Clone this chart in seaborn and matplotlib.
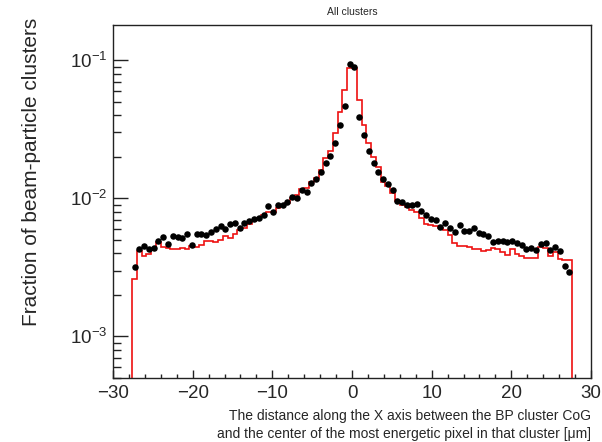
import numpy as np
import pandas as pd
import matplotlib
matplotlib.use("Agg")
import matplotlib.pyplot as plt
import seaborn as sns
from matplotlib.ticker import LogLocator, MultipleLocator, NullFormatter

# ---- data ----
bin_edges = np.linspace(-27.6, 27.6, 93)   # 92 bins, 0.6 um wide
bin_centers = 0.5 * (bin_edges[:-1] + bin_edges[1:])

data_fraction = [
    3.16e-3, 4.30e-3, 4.55e-3, 4.31e-3, 4.36e-3, 4.87e-3, 5.24e-3, 4.66e-3, 5.35e-3, 5.24e-3,
    5.20e-3, 5.51e-3, 4.60e-3, 5.51e-3, 5.54e-3, 5.44e-3, 5.69e-3, 5.98e-3, 6.32e-3, 6.01e-3,
    6.53e-3, 6.68e-3, 6.14e-3, 6.61e-3, 6.84e-3, 7.06e-3, 7.26e-3, 7.55e-3, 8.83e-3, 7.94e-3,
    9.02e-3, 8.97e-3, 9.33e-3, 1.03e-2, 1.01e-2, 1.15e-2, 1.11e-2, 1.29e-2, 1.39e-2, 1.54e-2,
    1.80e-2, 2.03e-2, 2.52e-2, 3.41e-2, 4.70e-2, 9.44e-2, 8.93e-2, 3.90e-2, 2.87e-2, 2.21e-2,
    1.79e-2, 1.56e-2, 1.38e-2, 1.27e-2, 1.15e-2, 9.64e-3, 9.38e-3, 8.93e-3, 8.95e-3, 9.17e-3,
    8.11e-3, 7.59e-3, 7.03e-3, 6.95e-3, 6.18e-3, 6.68e-3, 6.11e-3, 5.74e-3, 6.42e-3, 5.81e-3,
    5.81e-3, 6.14e-3, 5.60e-3, 5.50e-3, 5.35e-3, 4.79e-3, 4.92e-3, 4.87e-3, 4.79e-3, 4.87e-3,
    4.73e-3, 4.60e-3, 4.31e-3, 4.40e-3, 4.26e-3, 4.68e-3, 4.76e-3, 4.24e-3, 4.43e-3, 4.19e-3,
    3.24e-3, 2.92e-3,
]

sim_fraction = [
    2.62e-3, 4.15e-3, 3.85e-3, 3.95e-3, 4.20e-3, 4.86e-3, 4.42e-3, 4.40e-3, 4.33e-3, 4.33e-3,
    4.40e-3, 4.30e-3, 4.55e-3, 4.45e-3, 4.60e-3, 4.90e-3, 4.90e-3, 4.80e-3, 5.00e-3, 5.35e-3,
    5.20e-3, 5.50e-3, 5.85e-3, 6.10e-3, 6.50e-3, 6.90e-3, 7.20e-3, 7.55e-3, 8.00e-3, 7.90e-3,
    8.50e-3, 8.75e-3, 9.25e-3, 1.00e-2, 1.05e-2, 1.17e-2, 1.19e-2, 1.32e-2, 1.40e-2, 1.61e-2,
    1.95e-2, 2.22e-2, 2.96e-2, 4.19e-2, 6.10e-2, 8.80e-2, 8.80e-2, 5.12e-2, 3.41e-2, 2.51e-2,
    1.99e-2, 1.68e-2, 1.32e-2, 1.22e-2, 1.09e-2, 9.50e-3, 8.97e-3, 8.60e-3, 8.20e-3, 8.00e-3,
    7.20e-3, 6.55e-3, 6.40e-3, 6.30e-3, 6.10e-3, 5.90e-3, 5.44e-3, 4.73e-3, 4.50e-3, 4.53e-3,
    4.43e-3, 4.28e-3, 4.30e-3, 4.17e-3, 4.22e-3, 4.36e-3, 4.33e-3, 4.07e-3, 3.88e-3, 4.28e-3,
    3.95e-3, 3.83e-3, 3.68e-3, 3.68e-3, 3.68e-3, 4.43e-3, 4.36e-3, 3.83e-3, 4.12e-3, 3.62e-3,
    3.55e-3, 3.55e-3,
]

title_text = "All clusters"
ylabel_text = "Fraction of beam-particle clusters"
xlabel_lines = ["The distance along the X axis between the BP cluster CoG",
                "and the center of the most energetic pixel in that cluster [\u03bcm]"]

# ---- style ----
sns.set_theme(style="white")
plt.rcParams['font.family'] = ['Liberation Sans', 'DejaVu Sans']
plt.rcParams['mathtext.fontset'] = 'custom'
plt.rcParams['mathtext.rm'] = 'Liberation Sans'
plt.rcParams['mathtext.it'] = 'Liberation Sans:italic'
plt.rcParams['mathtext.bf'] = 'Liberation Sans:bold'

W, H = 602, 442
fig = plt.figure(figsize=(W / 100, H / 100), dpi=100)
fig.patch.set_facecolor('white')
ax = fig.add_axes([113 / W, 1 - 378 / H, 478 / W, 353 / H])
ax.set_facecolor('white')
ax.set_yscale('log')

ax.stairs(sim_fraction, bin_edges, baseline=1e-6, color='#ee1111', lw=1.2, zorder=2)
df = pd.DataFrame({'x': bin_centers, 'y': data_fraction})
sns.scatterplot(data=df, x='x', y='y', ax=ax, color='black', s=22,
                edgecolor='black', linewidth=0, zorder=3, legend=False)

ax.set_xlim(-30, 30)
ax.set_ylim(5e-4, 0.18)
ax.set_xlabel('')
ax.set_ylabel('')

ax.xaxis.set_major_locator(MultipleLocator(10))
ax.xaxis.set_minor_locator(MultipleLocator(2))
ax.yaxis.set_major_locator(LogLocator(base=10))
ax.yaxis.set_minor_locator(LogLocator(base=10, subs=np.arange(2, 10)))
ax.yaxis.set_minor_formatter(NullFormatter())

ax.tick_params(axis='both', which='both', direction='in', color='#222222',
               bottom=True, left=True, top=False, right=False, width=1.0)
ax.tick_params(axis='x', which='major', length=6, labelsize=13.5, pad=5)
ax.tick_params(axis='x', which='minor', length=3)
ax.tick_params(axis='y', which='major', length=11, labelsize=13.5, pad=4)
ax.tick_params(axis='y', which='minor', length=5.5)

for sp in ax.spines.values():
    sp.set_visible(True)
    sp.set_color('#222222')
    sp.set_linewidth(1.0)

fig.text(352 / W, 1 - 12 / H, title_text, ha='center', va='center', fontsize=7.5)
fig.text(32 / W, 1 - 18 / H, ylabel_text, rotation=90, ha='center', va='top', fontsize=15)
fig.text(591 / W, 1 - 409 / H, xlabel_lines[0], ha='right', va='top', fontsize=10)
fig.text(591 / W, 1 - 427 / H, xlabel_lines[1], ha='right', va='top', fontsize=10)

fig.savefig('out.png', dpi=100, facecolor='white')
